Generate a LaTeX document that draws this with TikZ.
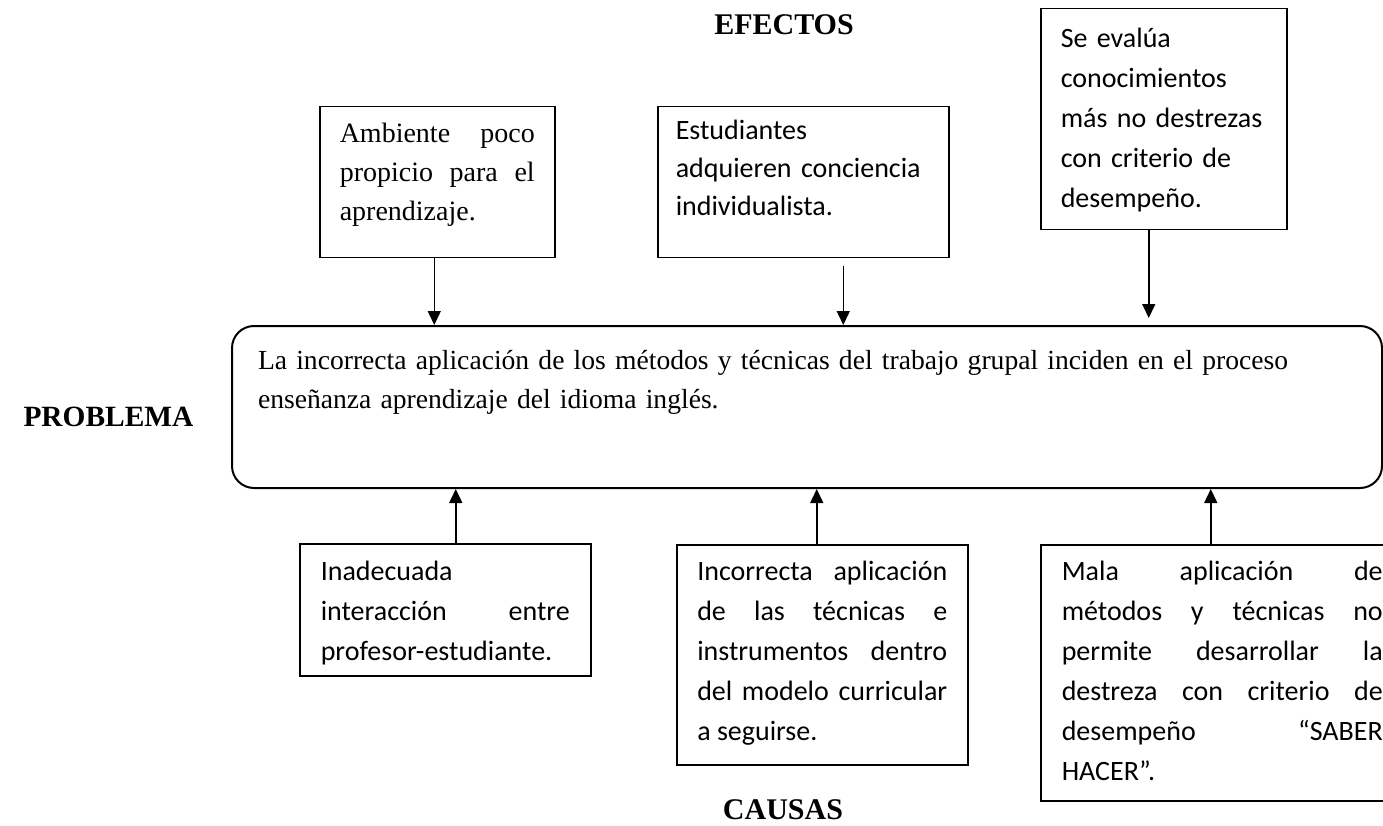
\documentclass[tikz,border=0pt]{standalone}
\usepackage{fontspec}
\setmainfont{Liberation Serif}
\newfontfamily\cuerpo{Carlito}
\usetikzlibrary{arrows.meta,calc}
\hyphenpenalty=10000
\exhyphenpenalty=10000

\begin{document}
\begin{tikzpicture}[x=1pt,y=-1pt,
    caja/.style={draw,line width=1.5pt,anchor=north west,inner ysep=0pt,align=justify,
        font=\cuerpo\fontsize{28}{40}\selectfont},
    titulo/.style={anchor=base,font=\bfseries\fontsize{30}{36}\selectfont},
    flecha/.style={line width=1.5pt,-{Triangle[length=14pt,width=13pt]}}]
    \useasboundingbox (0,0) rectangle (1383,826);
    \clip (0,0) rectangle (1383,826);
    \node[titulo] (efectos) at (784,35) {EFECTOS};
    \node[titulo,anchor=base west,font=\bfseries\fontsize{29.4}{36}\selectfont] (problema) at (20,426) {PROBLEMA};
    \node[titulo] (causas) at (783,819) {CAUSAS};
    \node[caja,rounded corners=22pt,line width=2pt,align=left,font=\fontsize{27.6}{39}\selectfont,
        text width=1098pt,inner xsep=26pt,text height=43pt,text depth=119pt] (prob) at (231,325)
        {La incorrecta aplicación de los métodos y técnicas del trabajo grupal inciden en el proceso\\
        enseñanza aprendizaje del idioma inglés.};
    \node[caja,font=\fontsize{28}{39}\selectfont,text width=195pt,inner xsep=20pt,
        text height=36pt,text depth=115pt] (ambiente) at (319,106)
        {Ambiente poco\linebreak propicio para el\linebreak aprendizaje.};
    \node[caja,align=left,text width=255pt,inner xsep=18pt,text height=33pt,text depth=118pt,
        font=\cuerpo\fontsize{28}{38}\selectfont] (estudiantes) at (657,106)
        {Estudiantes\\adquieren conciencia\\individualista.};
    \node[caja,align=left,text width=206pt,inner xsep=20pt,text height=39pt,text depth=182pt]
        (evalua) at (1040,8) {Se evalúa\\conocimientos\\más no destrezas\\con criterio de\\desempeño.};
    \node[caja,text width=249pt,inner xsep=21pt,text height=37pt,text depth=95pt] (interaccion) at (299,543)
        {Inadecuada\linebreak interacción entre\linebreak profesor-estudiante.};
    \node[caja,text width=250pt,inner xsep=20.5pt,text height=36pt,text depth=184pt] (tecnicas) at (676,544)
        {Incorrecta aplicación\linebreak de las técnicas e\linebreak instrumentos dentro\linebreak
        del modelo curricular\linebreak a seguirse.};
    \node[caja,text width=321pt,inner xsep=21pt,text height=36pt,text depth=220pt] (metodos) at (1040,544)
        {Mala aplicación de\linebreak métodos y técnicas no\linebreak permite desarrollar la\linebreak
        destreza con criterio de\linebreak desempeño “SABER\linebreak HACER”.};
    \coordinate (a1) at ([xshift=-3pt]ambiente.south);
    \coordinate (b1) at ([xshift=40pt,yshift=-7pt]estudiantes.south);
    \coordinate (c1) at ([xshift=-15pt]evalua.south);
    \coordinate (e1) at ([xshift=10.5pt]interaccion.north);
    \coordinate (f1) at ([xshift=-5.5pt]tecnicas.north);
    \coordinate (d1) at ([xshift=-11.5pt]metodos.north);
    \draw[flecha] (a1) -- (a1 |- prob.north);
    \draw[flecha] (b1) -- (b1 |- prob.north);
    \draw[flecha] (c1) -- ($(c1 |- prob.north)+(0,-7)$);
    \draw[flecha] (e1) -- (e1 |- prob.south);
    \draw[flecha] (f1) -- (f1 |- prob.south);
    \draw[flecha] (d1) -- (d1 |- prob.south);
\end{tikzpicture}
\end{document}
